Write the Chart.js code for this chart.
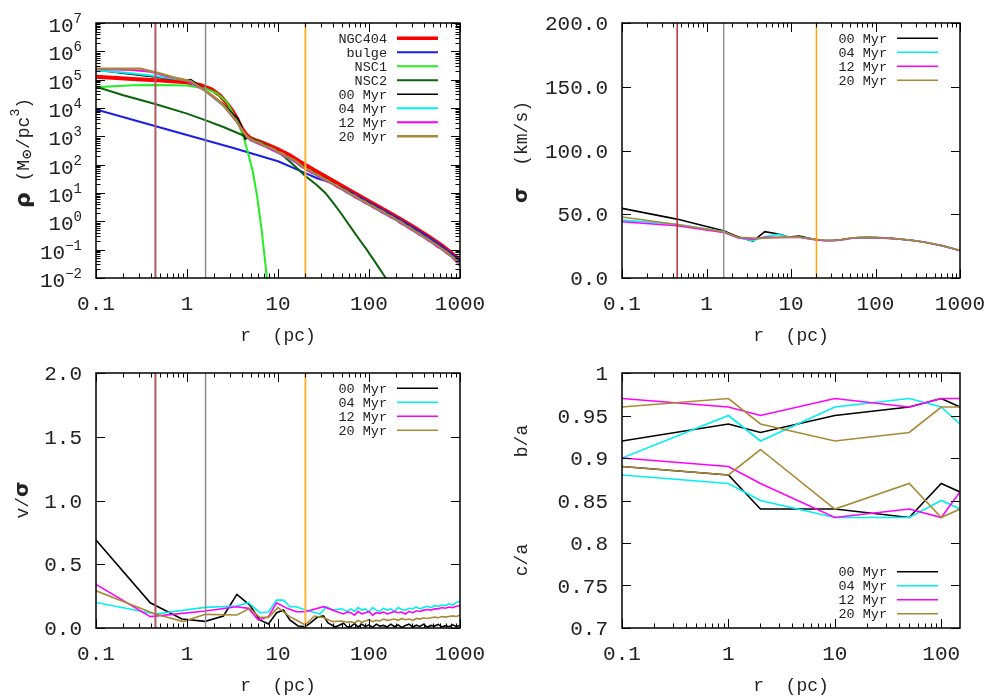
<!DOCTYPE html>
<html>
<head>
<meta charset="utf-8">
<script src="https://cdn.jsdelivr.net/npm/chart.js@4.4.1/dist/chart.umd.min.js"></script>
<style>
  body { margin: 0; background: #fff; }
  #page { position: relative; width: 1000px; height: 700px; overflow: hidden; }
  .panel { position: absolute; width: 500px; height: 350px; }
</style>
</head>
<body>
<div id="page">
  <div class="panel" style="left:0;top:0"><canvas id="rho" width="500" height="350"></canvas></div>
  <div class="panel" style="left:500px;top:0"><canvas id="sigma" width="500" height="350"></canvas></div>
  <div class="panel" style="left:0;top:350px"><canvas id="vsig" width="500" height="350"></canvas></div>
  <div class="panel" style="left:500px;top:350px"><canvas id="shape" width="500" height="350"></canvas></div>
</div>
<script>
"use strict";

// ---- data (radii and densities as log10 values) ----
const markerR = [0.45, 1.6, 20];

const ngcLogR = [-1, -0.6, -0.33, 0, 0.15, 0.27, 0.36, 0.44, 0.5, 0.55, 0.6, 0.65, 0.69, 0.75, 0.8, 0.9, 1.0, 1.13, 1.245, 1.4, 1.6, 1.8, 2.0, 2.2, 2.34, 2.5, 2.65, 2.8, 2.9, 3.0];
const ngcLogRho = [5.10, 5.02, 4.98, 4.91, 4.81, 4.66, 4.45, 4.16, 3.9, 3.63, 3.30, 3.07, 2.95, 2.87, 2.81, 2.68, 2.54, 2.33, 2.10, 1.80, 1.44, 1.07, 0.71, 0.35, 0.09, -0.22, -0.52, -0.85, -1.1, -1.38];

const bulgeLogR = [-1, -0.5, 0, 0.5, 1.0, 1.245, 1.3, 1.43, 1.6, 1.8, 2.0, 2.2, 2.34, 2.5, 2.65, 2.8, 2.9, 3.0];
const bulgeLogRho = [3.95, 3.5, 3.05, 2.6, 2.12, 1.78, 1.70, 1.52, 1.35, 1.02, 0.67, 0.32, 0.06, -0.25, -0.55, -0.88, -1.13, -1.41];

const nsc1LogR = [-1, -0.6, -0.3, 0, 0.2, 0.33, 0.44, 0.55, 0.62, 0.68, 0.72, 0.77, 0.82, 0.88];
const nsc1LogRho = [4.73, 4.8, 4.81, 4.79, 4.69, 4.52, 4.2, 3.55, 3.0, 2.3, 1.8, 0.9, -0.3, -2.05];

const nsc2LogR = [-1, -0.7, -0.35, 0, 0.2, 0.4, 0.62, 0.8, 1.0, 1.15, 1.245, 1.3, 1.426, 1.52, 1.609, 1.7, 1.79, 1.88, 1.975, 2.07, 2.157, 2.2];
const nsc2LogRho = [4.75, 4.45, 4.14, 3.8, 3.57, 3.33, 3.03, 2.8, 2.47, 2.05, 1.77, 1.6, 1.28, 1.0, 0.64, 0.25, -0.17, -0.58, -1.0, -1.45, -1.87, -2.08];

const rhoOuterLogR = [0.70, 0.75, 0.80, 0.85, 0.90, 0.95, 1.00, 1.05, 1.10, 1.15, 1.20, 1.25, 1.30, 1.35, 1.40, 1.45, 1.50, 1.55, 1.60, 1.65, 1.70, 1.75, 1.80, 1.85, 1.90, 1.95, 2.00, 2.05, 2.10, 2.15, 2.20, 2.25, 2.30, 2.35, 2.40, 2.45, 2.50, 2.55, 2.60, 2.65, 2.70, 2.75, 2.80, 2.85, 2.90, 2.95, 3.00];

const rho00InnerLogR = [-1, -0.5, -0.2, 0, 0.04, 0.1, 0.2, 0.4, 0.5, 0.56, 0.6, 0.64, 0.67];
const rho00InnerLogRho = [5.34, 5.15, 5.04, 4.98, 5.0, 4.88, 4.62, 4.14, 3.8, 3.62, 3.35, 2.9, 2.95];
const rho00OuterLogRho = [2.92, 2.84, 2.76, 2.70, 2.63, 2.54, 2.47, 2.38, 2.31, 2.22, 2.11, 2.00, 1.89, 1.81, 1.71, 1.63, 1.53, 1.45, 1.35, 1.27, 1.17, 1.09, 0.98, 0.90, 0.80, 0.72, 0.62, 0.54, 0.44, 0.36, 0.26, 0.18, 0.08, -0.01, -0.12, -0.21, -0.32, -0.41, -0.52, -0.61, -0.73, -0.83, -0.95, -1.06, -1.19, -1.33, -1.51];

const rho04InnerLogR = [-1, -0.7, -0.4, -0.2, 0, 0.2, 0.4, 0.55, 0.65];
const rho04InnerLogRho = [5.32, 5.25, 5.15, 5.06, 4.97, 4.6, 4.08, 3.5, 3.02];
const rho04OuterLogRho = [2.87, 2.78, 2.73, 2.64, 2.59, 2.49, 2.42, 2.33, 2.26, 2.16, 2.07, 1.94, 1.84, 1.76, 1.66, 1.58, 1.48, 1.40, 1.30, 1.22, 1.12, 1.04, 0.93, 0.85, 0.75, 0.67, 0.57, 0.49, 0.39, 0.31, 0.21, 0.13, 0.03, -0.06, -0.17, -0.26, -0.37, -0.46, -0.57, -0.66, -0.78, -0.88, -1.00, -1.11, -1.24, -1.38, -1.57];

const rho12InnerLogR = [-1, -0.6, -0.4, -0.2, 0, 0.2, 0.4, 0.55, 0.65];
const rho12InnerLogRho = [5.38, 5.34, 5.28, 5.1, 4.97, 4.61, 4.09, 3.5, 3.02];
const rho12OuterLogRho = [2.86, 2.80, 2.72, 2.66, 2.58, 2.50, 2.43, 2.34, 2.27, 2.17, 2.08, 1.95, 1.86, 1.75, 1.68, 1.57, 1.50, 1.39, 1.32, 1.21, 1.14, 1.03, 0.95, 0.84, 0.77, 0.66, 0.59, 0.48, 0.41, 0.30, 0.23, 0.12, 0.05, -0.07, -0.15, -0.27, -0.35, -0.47, -0.55, -0.67, -0.76, -0.89, -0.98, -1.12, -1.22, -1.39, -1.55];

const rho20InnerLogR = [-1, -0.75, -0.51, -0.3, -0.1, 0.04, 0.2, 0.3, 0.4, 0.48, 0.55, 0.62, 0.66];
const rho20InnerLogRho = [5.39, 5.39, 5.39, 5.22, 5.04, 4.95, 4.62, 4.38, 4.1, 3.8, 3.51, 3.15, 2.99];
const rho20OuterLogRho = [2.90, 2.82, 2.77, 2.68, 2.62, 2.55, 2.45, 2.39, 2.29, 2.21, 2.12, 1.99, 1.87, 1.80, 1.69, 1.62, 1.51, 1.44, 1.33, 1.26, 1.15, 1.08, 0.96, 0.89, 0.78, 0.71, 0.60, 0.53, 0.42, 0.35, 0.24, 0.17, 0.06, -0.02, -0.14, -0.22, -0.34, -0.42, -0.54, -0.62, -0.75, -0.84, -0.97, -1.07, -1.21, -1.34, -1.53];

// velocity dispersion (km/s)
const sigOuterLogR = [1.0, 1.1, 1.2, 1.3, 1.4, 1.5, 1.6, 1.7, 1.8, 1.9, 2.0, 2.1, 2.2, 2.3, 2.4, 2.5, 2.6, 2.7, 2.8, 2.9, 3.0];
const sig00InnerLogR = [-1, -0.35, 0.2, 0.37, 0.55, 0.69, 0.85, 0.96];
const sig00Inner = [54.6, 46.2, 37.1, 32.4, 29.0, 36.3, 34.5, 32.4];
const sig00Outer = [32.3, 32.8, 31.4, 30.1, 29.4, 29.6, 30.2, 31.2, 31.7, 31.9, 31.7, 31.5, 31.1, 30.4, 29.7, 29.0, 27.8, 26.5, 25.2, 23.3, 21.5];
const sig04InnerLogR = [-1, -0.35, 0.2, 0.37, 0.55, 0.69, 0.85, 0.96];
const sig04Inner = [45.4, 42.2, 36.5, 31.6, 29.3, 32.4, 34.2, 32.4];
const sig04Outer = [32.1, 32.0, 31.1, 30.0, 29.4, 29.3, 29.8, 31.1, 31.9, 31.6, 31.9, 31.3, 31.0, 30.6, 29.7, 28.8, 27.8, 26.7, 25.0, 23.5, 21.7];
const sig12InnerLogR = [-1, -0.35, 0.2, 0.37, 0.55, 0.69, 0.85];
const sig12Inner = [44.1, 41.0, 35.8, 31.6, 30.5, 32.0, 31.9];
const sig12Outer = [31.8, 31.9, 30.8, 29.9, 29.2, 29.3, 29.9, 31.0, 31.6, 31.6, 31.7, 31.3, 30.9, 30.4, 29.8, 28.8, 27.9, 26.5, 25.1, 23.4, 21.6];
const sig20InnerLogR = [-1, -0.35, 0.2, 0.37, 0.63, 0.886];
const sig20Inner = [47.8, 42.0, 36.3, 31.9, 31.1, 31.9];
const sig20Outer = [32.0, 32.2, 31.0, 30.3, 29.6, 29.5, 30.0, 31.3, 31.8, 31.7, 31.8, 31.4, 31.0, 30.5, 29.8, 28.9, 27.9, 26.6, 25.1, 23.4, 21.6];

// rotation v/sigma
const vsOuterLogR = [1.80, 1.84, 1.88, 1.92, 1.96, 2.00, 2.04, 2.08, 2.12, 2.16, 2.20, 2.24, 2.28, 2.32, 2.36, 2.40, 2.44, 2.48, 2.52, 2.56, 2.60, 2.64, 2.68, 2.72, 2.76, 2.80, 2.84, 2.88, 2.92, 2.96, 3.00];
const vs00InnerLogR = [-1, -0.404, -0.056, 0.2, 0.40, 0.548, 0.69, 0.80, 0.895, 0.985, 1.06, 1.13, 1.22, 1.30, 1.35, 1.43, 1.50, 1.55, 1.63, 1.72, 1.76];
const vs00Inner = [0.69, 0.198, 0.07, 0.052, 0.094, 0.264, 0.18, 0.063, 0.031, 0.12, 0.141, 0.063, 0.016, 0.01, 0.037, 0.084, 0.094, 0.04, 0.008, 0.037, 0.01];
const vs00Outer = [0.01, 0.035, 0.008, 0.03, 0.012, 0.025, 0.005, 0.03, 0.015, 0.02, 0.008, 0.03, 0.01, 0.025, 0.005, 0.02, 0.03, 0.008, 0.022, 0.012, 0.03, 0.006, 0.02, 0.015, 0.028, 0.008, 0.018, 0.01, 0.025, 0.012, 0.02];
const vs04InnerLogR = [-1, -0.35, 0.2, 0.548, 0.675, 0.8, 0.895, 0.985, 1.06, 1.13, 1.2, 1.3, 1.37, 1.46, 1.53, 1.6, 1.7, 1.76];
const vs04Inner = [0.2, 0.11, 0.162, 0.172, 0.198, 0.12, 0.125, 0.219, 0.219, 0.167, 0.167, 0.141, 0.128, 0.11, 0.167, 0.141, 0.15, 0.13];
const vs04Outer = [0.15, 0.13, 0.16, 0.14, 0.15, 0.125, 0.16, 0.14, 0.13, 0.155, 0.14, 0.15, 0.13, 0.16, 0.145, 0.14, 0.155, 0.15, 0.165, 0.15, 0.16, 0.17, 0.16, 0.175, 0.17, 0.18, 0.175, 0.19, 0.18, 0.2, 0.21];
const vs12InnerLogR = [-1, -0.404, 0.2, 0.548, 0.675, 0.785, 0.895, 0.985, 1.1, 1.2, 1.3, 1.5, 1.65, 1.72, 1.76];
const vs12Inner = [0.342, 0.089, 0.133, 0.167, 0.154, 0.063, 0.089, 0.198, 0.154, 0.128, 0.128, 0.167, 0.128, 0.11, 0.125];
const vs12Outer = [0.12, 0.1, 0.13, 0.11, 0.12, 0.13, 0.1, 0.12, 0.115, 0.125, 0.11, 0.12, 0.13, 0.12, 0.125, 0.11, 0.13, 0.12, 0.135, 0.13, 0.14, 0.145, 0.14, 0.15, 0.15, 0.16, 0.155, 0.165, 0.16, 0.17, 0.175];
const vs20InnerLogR = [-1, -0.35, -0.04, 0.2, 0.548, 0.69, 0.8, 0.895, 1.0, 1.13, 1.2, 1.3, 1.4, 1.5, 1.6, 1.7, 1.76];
const vs20Inner = [0.292, 0.11, 0.05, 0.107, 0.102, 0.154, 0.083, 0.083, 0.16, 0.089, 0.063, 0.024, 0.094, 0.083, 0.05, 0.055, 0.045];
const vs20Outer = [0.05, 0.04, 0.06, 0.045, 0.055, 0.065, 0.05, 0.06, 0.055, 0.07, 0.06, 0.065, 0.07, 0.06, 0.075, 0.065, 0.07, 0.06, 0.075, 0.07, 0.08, 0.075, 0.08, 0.085, 0.08, 0.09, 0.085, 0.09, 0.095, 0.09, 0.1];

// axis ratios
const shapeR = [0.1, 1, 2, 10, 50, 100, 150];
const ba00 = [0.92, 0.94, 0.93, 0.95, 0.96, 0.97, 0.96];
const ca00 = [0.89, 0.88, 0.84, 0.84, 0.83, 0.87, 0.86];
const ba04 = [0.90, 0.95, 0.92, 0.96, 0.97, 0.96, 0.94];
const ca04 = [0.88, 0.87, 0.85, 0.83, 0.83, 0.85, 0.84];
const ba12 = [0.97, 0.96, 0.95, 0.97, 0.96, 0.97, 0.97];
const ca12 = [0.90, 0.89, 0.87, 0.83, 0.84, 0.83, 0.86];
const ba20 = [0.96, 0.97, 0.94, 0.92, 0.93, 0.96, 0.96];
const ca20 = [0.89, 0.88, 0.91, 0.84, 0.87, 0.83, 0.84];

// tick labels
const rTicks = [0.1, 1, 10, 100, 1000];
const rTickLabels = ["0.1", "1", "10", "100", "1000"];
const shapeTicks = [0.1, 1, 10, 100];
const shapeTickLabels = ["0.1", "1", "10", "100"];
const rhoTickExp = [-2, -1, 0, 1, 2, 3, 4, 5, 6, 7];
const sigmaTicks = [0, 50, 100, 150, 200];
const sigmaTickLabels = ["0.0", "50.0", "100.0", "150.0", "200.0"];
const vsTicks = [0, 0.5, 1, 1.5, 2];
const vsTickLabels = ["0.0", "0.5", "1.0", "1.5", "2.0"];
const shapeYTicks = [0.7, 0.75, 0.8, 0.85, 0.9, 0.95, 1];
const shapeYTickLabels = ["0.7", "0.75", "0.8", "0.85", "0.9", "0.95", "1"];

const simNames = ["00 Myr", "04 Myr", "12 Myr", "20 Myr"];
const simColors = ["#000000", "#00f0f0", "#ff00ff", "#a88a35"];

// ---- helpers ----
const MONO = '"Liberation Mono", "DejaVu Sans Mono", monospace';
const GREEK = '"DejaVu Sans", sans-serif';

function logPts(lx, ly) {
  return lx.map((v, i) => ({ x: Math.pow(10, v), y: Math.pow(10, ly[i]) }));
}
function linPts(lx, y) {
  return lx.map((v, i) => ({ x: Math.pow(10, v), y: y[i] }));
}
function rawPts(x, y) {
  return x.map((v, i) => ({ x: v, y: y[i] }));
}

function line(ctx, x1, y1, x2, y2) {
  ctx.beginPath();
  ctx.moveTo(x1, y1);
  ctx.lineTo(x2, y2);
  ctx.stroke();
}

function drawSegs(ctx, segs, x, y, align) {
  let w = 0;
  segs.forEach(s => {
    ctx.font = s.font;
    s.w = ctx.measureText(s.t).width;
    w += s.w;
  });
  let cx = align === "right" ? x - w : align === "center" ? x - w / 2 : x;
  ctx.textAlign = "left";
  segs.forEach(s => {
    ctx.font = s.font;
    ctx.fillText(s.t, cx, y + (s.dy || 0));
    cx += s.w;
  });
}

function logTickValues(min, max) {
  const out = [];
  for (let e = Math.floor(Math.log10(min)); e <= Math.ceil(Math.log10(max)); e++) {
    for (let k = 1; k <= 9; k++) {
      const v = k * Math.pow(10, e);
      if (v >= min * 0.999 && v <= max * 1.001) out.push({ v: v, major: k === 1 });
    }
  }
  return out;
}

const framePlugin = {
  id: "frame",
  afterDatasetsDraw(chart, args, o) {
    const ctx = chart.ctx;
    const a = chart.chartArea;
    const xs = chart.scales.x;
    const ys = chart.scales.y;
    ctx.save();

    // vertical marker lines
    (o.markers || []).forEach((m, i) => {
      const px = xs.getPixelForValue(markerR[i]);
      ctx.strokeStyle = m.color;
      ctx.lineWidth = m.width;
      line(ctx, px, a.top, px, a.bottom);
    });

    // frame
    ctx.strokeStyle = "#000";
    ctx.lineWidth = 1.5;
    ctx.strokeRect(a.left, a.top, a.right - a.left, a.bottom - a.top);

    // ticks, mirrored on all four sides
    ctx.lineWidth = 1;
    logTickValues(xs.min, xs.max).forEach(t => {
      const px = Math.round(xs.getPixelForValue(t.v)) + 0.5;
      const len = t.major ? 9 : 4.5;
      line(ctx, px, a.bottom, px, a.bottom - len);
      line(ctx, px, a.top, px, a.top + len);
    });
    const yTicks = o.yLog ? logTickValues(ys.min, ys.max) : o.yTicks.map(v => ({ v: v, major: true }));
    yTicks.forEach(t => {
      const py = Math.round(ys.getPixelForValue(t.v)) + 0.5;
      const len = t.major ? 9 : 4.5;
      line(ctx, a.left, py, a.left + len, py);
      line(ctx, a.right, py, a.right - len, py);
    });

    // tick labels
    ctx.fillStyle = "#222";
    ctx.textBaseline = "alphabetic";
    ctx.font = "21px " + MONO;
    ctx.textAlign = "center";
    o.xTicks.forEach((v, i) => {
      ctx.fillText(o.xLabels[i], xs.getPixelForValue(v), a.bottom + 32);
    });
    if (o.yLog) {
      rhoTickExp.forEach(e => {
        const py = ys.getPixelForValue(Math.pow(10, e));
        drawSegs(ctx, [
          { t: "10", font: "21px " + MONO },
          { t: e < 0 ? "\u2212" + (-e) : String(e), font: "14px " + MONO, dy: -9 }
        ], a.left - 14, py + 9, "right");
      });
    } else {
      ctx.textAlign = "right";
      o.yTicks.forEach((v, i) => {
        ctx.fillText(o.yLabels[i], a.left - 14, ys.getPixelForValue(v) + 7);
      });
    }

    // axis titles
    ctx.fillStyle = "#222";
    ctx.textAlign = "center";
    ctx.font = "18px " + MONO;
    ctx.fillText("r  (pc)", (a.left + a.right) / 2, 341);
    ctx.textBaseline = "middle";
    o.yTitles.forEach(t => {
      ctx.save();
      ctx.translate(t.x, t.y);
      ctx.rotate(-Math.PI / 2);
      drawSegs(ctx, t.segs, 0, 0, "center");
      ctx.restore();
    });

    // key
    ctx.textBaseline = "alphabetic";
    ctx.font = "13.5px " + MONO;
    o.legend.items.forEach((it, i) => {
      const y = o.legend.y + 14 * i;
      ctx.fillStyle = "#222";
      ctx.textAlign = "right";
      ctx.fillText(it.label, 387, y + 4.5);
      ctx.strokeStyle = it.color;
      ctx.lineWidth = it.width;
      line(ctx, 397, y, 438, y);
    });

    ctx.restore();
  }
};

function sim(label, color, data, width) {
  return { label: label, data: data, borderColor: color, borderWidth: width || 1.6 };
}

function makeChart(id, datasets, xMax, yScale, leftW, frame) {
  const n = datasets.length;
  datasets.forEach((d, i) => {
    d.order = n - i;
    d.pointRadius = 0;
    d.fill = false;
    d.tension = 0;
  });
  return new Chart(document.getElementById(id), {
    type: "line",
    data: { datasets: datasets },
    plugins: [framePlugin],
    options: {
      responsive: false,
      animation: false,
      events: [],
      layout: { padding: { top: 23, right: 40, left: 0, bottom: 0 } },
      scales: {
        x: {
          type: "logarithmic", min: 0.1, max: xMax,
          afterFit: s => { s.height = 72; },
          ticks: { display: false }, grid: { display: false }, border: { display: false }
        },
        y: Object.assign({
          afterFit: s => { s.width = leftW; },
          ticks: { display: false }, grid: { display: false }, border: { display: false }
        }, yScale)
      },
      plugins: { legend: { display: false }, tooltip: { enabled: false }, frame: frame }
    }
  });
}

function simKey(y) {
  return { y: y, items: simNames.map((s, i) => ({ label: s, color: simColors[i], width: 1.6 })) };
}

const markersThick = [
  { color: "#b5565c", width: 2 },
  { color: "#8c8c8c", width: 1.5 },
  { color: "#ffb23a", width: 2 }
];
const markersThin = [
  { color: "#b8202c", width: 1.4 },
  { color: "#949494", width: 1.5 },
  { color: "#ffa500", width: 1.5 }
];

// ---- density ----
const rhoSets = [
  sim("NGC404", "#ff0000", logPts(ngcLogR, ngcLogRho), 4),
  sim("bulge", "#1a1ee8", logPts(bulgeLogR, bulgeLogRho), 2),
  sim("NSC1", "#22ee22", logPts(nsc1LogR, nsc1LogRho), 2),
  sim("NSC2", "#0a640a", logPts(nsc2LogR, nsc2LogRho), 2),
  sim("00 Myr", simColors[0], logPts(rho00InnerLogR.concat(rhoOuterLogR), rho00InnerLogRho.concat(rho00OuterLogRho))),
  sim("04 Myr", simColors[1], logPts(rho04InnerLogR.concat(rhoOuterLogR), rho04InnerLogRho.concat(rho04OuterLogRho)), 2),
  sim("12 Myr", simColors[2], logPts(rho12InnerLogR.concat(rhoOuterLogR), rho12InnerLogRho.concat(rho12OuterLogRho)), 2),
  sim("20 Myr", simColors[3], logPts(rho20InnerLogR.concat(rhoOuterLogR), rho20InnerLogRho.concat(rho20OuterLogRho)), 2.4)
];
makeChart("rho", rhoSets, 1000, { type: "logarithmic", min: 1e-2, max: 1e7 }, 96, {
  markers: markersThick, yLog: true,
  xTicks: rTicks, xLabels: rTickLabels,
  yTitles: [{ x: 24, y: 153, segs: [
    { t: "\u03c1", font: "bold 22px " + GREEK },
    { t: " (M", font: "18px " + MONO },
    { t: "\u2299", font: "bold 13px " + GREEK, dy: 4 },
    { t: "/pc", font: "18px " + MONO },
    { t: "3", font: "13px " + MONO, dy: -8 },
    { t: ")", font: "18px " + MONO }
  ] }],
  legend: { y: 38.3, items: rhoSets.map(d => ({ label: d.label, color: d.borderColor, width: Math.min(d.borderWidth, 3.5) })) }
});

// ---- velocity dispersion ----
makeChart("sigma", [
  sim("00 Myr", simColors[0], linPts(sig00InnerLogR.concat(sigOuterLogR), sig00Inner.concat(sig00Outer))),
  sim("04 Myr", simColors[1], linPts(sig04InnerLogR.concat(sigOuterLogR), sig04Inner.concat(sig04Outer))),
  sim("12 Myr", simColors[2], linPts(sig12InnerLogR.concat(sigOuterLogR), sig12Inner.concat(sig12Outer))),
  sim("20 Myr", simColors[3], linPts(sig20InnerLogR.concat(sigOuterLogR), sig20Inner.concat(sig20Outer)))
], 1000, { type: "linear", min: 0, max: 200 }, 122, {
  markers: markersThin,
  xTicks: rTicks, xLabels: rTickLabels, yTicks: sigmaTicks, yLabels: sigmaTickLabels,
  yTitles: [{ x: 22, y: 152, segs: [
    { t: "\u03c3", font: "bold 20px " + GREEK },
    { t: "  (km/s)", font: "18px " + MONO }
  ] }],
  legend: simKey(38.3)
});

// ---- v / sigma ----
makeChart("vsig", [
  sim("00 Myr", simColors[0], linPts(vs00InnerLogR.concat(vsOuterLogR), vs00Inner.concat(vs00Outer))),
  sim("04 Myr", simColors[1], linPts(vs04InnerLogR.concat(vsOuterLogR), vs04Inner.concat(vs04Outer))),
  sim("12 Myr", simColors[2], linPts(vs12InnerLogR.concat(vsOuterLogR), vs12Inner.concat(vs12Outer))),
  sim("20 Myr", simColors[3], linPts(vs20InnerLogR.concat(vsOuterLogR), vs20Inner.concat(vs20Outer)))
], 1000, { type: "linear", min: 0, max: 2 }, 96, {
  markers: markersThick,
  xTicks: rTicks, xLabels: rTickLabels, yTicks: vsTicks, yLabels: vsTickLabels,
  yTitles: [{ x: 23, y: 150, segs: [
    { t: "v/", font: "18px " + MONO },
    { t: "\u03c3", font: "bold 20px " + GREEK }
  ] }],
  legend: simKey(38.3)
});

// ---- axis ratios ----
makeChart("shape", [
  sim("00 Myr", simColors[0], rawPts(shapeR, ba00)),
  sim("00 Myr", simColors[0], rawPts(shapeR, ca00)),
  sim("04 Myr", simColors[1], rawPts(shapeR, ba04)),
  sim("04 Myr", simColors[1], rawPts(shapeR, ca04)),
  sim("12 Myr", simColors[2], rawPts(shapeR, ba12)),
  sim("12 Myr", simColors[2], rawPts(shapeR, ca12)),
  sim("20 Myr", simColors[3], rawPts(shapeR, ba20)),
  sim("20 Myr", simColors[3], rawPts(shapeR, ca20))
], 150, { type: "linear", min: 0.7, max: 1 }, 122, {
  markers: [],
  xTicks: shapeTicks, xLabels: shapeTickLabels, yTicks: shapeYTicks, yLabels: shapeYTickLabels,
  yTitles: [
    { x: 22, y: 91, segs: [{ t: "b/a", font: "18px " + MONO }] },
    { x: 22, y: 210, segs: [{ t: "c/a", font: "18px " + MONO }] }
  ],
  legend: simKey(221.7)
});
</script>
</body>
</html>
